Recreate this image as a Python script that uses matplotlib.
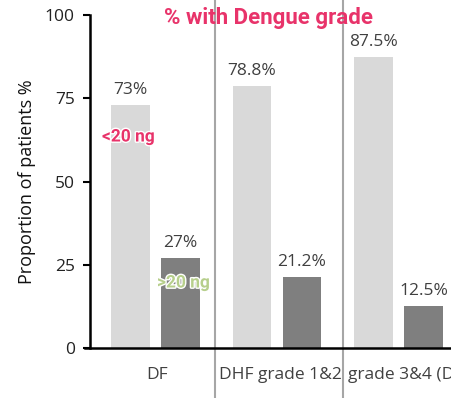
import matplotlib
matplotlib.use("Agg")
import matplotlib.pyplot as plt
import matplotlib.patheffects as pe
import numpy as np

categories = ["DF", "DHF grade 1&2", "grade 3&4 (DSS)"]
below_20 = [73.0, 78.8, 87.5]
above_20 = [27.0, 21.2, 12.5]
below_labels = ["73%", "78.8%", "87.5%"]
above_labels = ["27%", "21.2%", "12.5%"]
yticks = [0, 25, 50, 75, 100]

plt.rcParams['font.family'] = ['Open Sans', 'DejaVu Sans']

fig = plt.figure(figsize=(4.51, 3.98), dpi=100)
ax = fig.add_axes([90/451, 50/398, 1 - 90/451, 333/398])

x = np.arange(len(categories))
off = 0.206
w = 0.32
ax.bar(x - off, below_20, width=w, color="#d9d9d9")
ax.bar(x + off, above_20, width=w, color="#7f7f7f")

txtcol = "#404040"
for xi, v, lab in zip(x - off, below_20, below_labels):
    ax.annotate(lab, (xi, v), xytext=(0, 5), textcoords="offset points",
                ha="center", va="bottom", fontsize=12.5, color=txtcol)
for xi, v, lab in zip(x + off, above_20, above_labels):
    ax.annotate(lab, (xi, v), xytext=(0, 5), textcoords="offset points",
                ha="center", va="bottom", fontsize=12.5, color=txtcol)

ax.set_xlim(-0.539, 2.432)
ax.set_ylim(0, 100)
ax.set_yticks(yticks)
ax.set_yticklabels([str(t) for t in yticks], fontsize=12.5, color="#222222")
ax.set_xticks([])
ax.tick_params(axis='y', length=5, width=1.5, direction='out', pad=6)
for s in ["top", "right"]:
    ax.spines[s].set_visible(False)
ax.spines["left"].set_linewidth(1.8)
ax.spines["bottom"].set_linewidth(1.8)
ax.spines["bottom"].set_bounds(-0.58, 2.432)

ax.set_ylabel("Proportion of patients %", fontsize=13, color="#111111", labelpad=6)

trans = ax.get_xaxis_transform()
for sx in [0.49, 1.545]:
    ax.plot([sx, sx], [-0.16, 1.06], transform=trans, color="#a6a6a6",
            lw=1.5, clip_on=False)

ax.text(0.01, -0.081, categories[0], transform=trans, ha="center", va="center",
        fontsize=12.5, color=txtcol)
ax.text(1.03, -0.081, categories[1], transform=trans, ha="center", va="center",
        fontsize=12.5, color=txtcol)
ax.text(1.584, -0.081, categories[2], transform=trans, ha="left", va="center",
        fontsize=12.5, color=txtcol)

fig.text(269/451, 1 - 18/398, "% with Dengue grade", ha="center", va="center",
         fontsize=16, fontweight="bold", color="#e8336a", family=["Roboto", "DejaVu Sans"])
fig.text(128.5/451, 1 - 137/398, "<20 ng", ha="center", va="center",
         fontsize=12.5, fontweight="bold", color="#e8336a", family=["Roboto", "DejaVu Sans"],
         path_effects=[pe.withStroke(linewidth=2, foreground="white")])
fig.text(183.5/451, 1 - 283/398, ">20 ng", ha="center", va="center",
         fontsize=12.5, fontweight="bold", color="#b7cf8c", family=["Roboto", "DejaVu Sans"],
         path_effects=[pe.withStroke(linewidth=2, foreground="white")])

fig.savefig("out.png", dpi=100)
